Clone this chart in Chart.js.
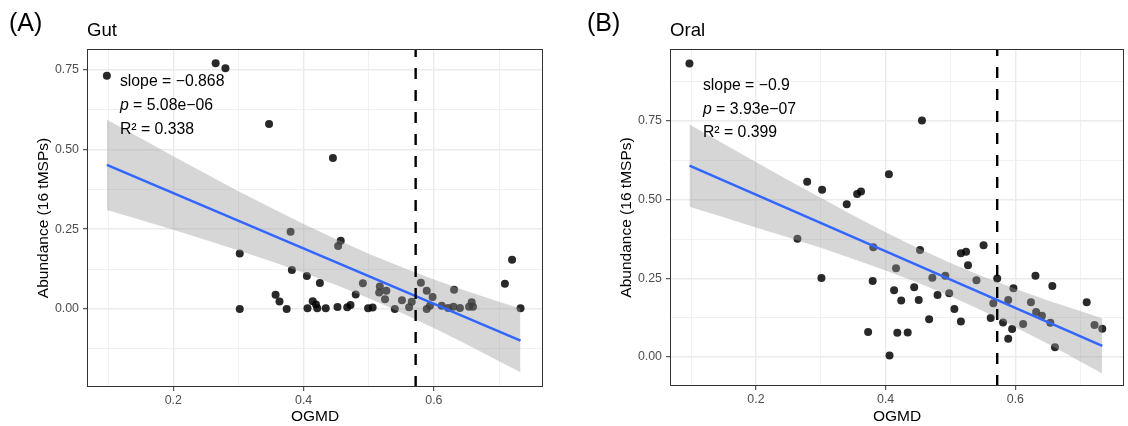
<!DOCTYPE html>
<html><head><meta charset="utf-8">
<script src="https://cdn.jsdelivr.net/npm/chart.js@4/dist/chart.umd.min.js"></script>
<style>
html,body{margin:0;padding:0;background:#fff;}
body{width:1128px;height:426px;position:relative;overflow:hidden;font-family:"Liberation Sans",Arial,sans-serif;}
.cv{position:absolute;top:0;}
.lbl{position:absolute;white-space:nowrap;line-height:1;color:#000;}
</style></head><body>
<canvas id="gut" class="cv" width="564" height="426" style="left:0px"></canvas>
<canvas id="oral" class="cv" width="564" height="426" style="left:564px"></canvas>
<div class="lbl" style="left:9px;top:10px;font-size:25px">(A)</div>
<div class="lbl" style="left:87px;top:21px;font-size:18.6px">Gut</div>
<div class="lbl" style="left:587px;top:10px;font-size:25px">(B)</div>
<div class="lbl" style="left:670px;top:21px;font-size:18.6px">Oral</div>
<script>
// ---------- data ----------
const xTicks = [0.1, 0.2, 0.3, 0.4, 0.5, 0.6, 0.7];
const xMajor = [0.2, 0.4, 0.6];
const gutYTicks = [-0.125, 0, 0.125, 0.25, 0.375, 0.5, 0.625, 0.75];
const oralYTicks = [0, 0.125, 0.25, 0.375, 0.5, 0.625, 0.75, 0.875];
const yMajor = [0, 0.25, 0.5, 0.75];
const ogmdCutoff = 0.572;

const gutX = [0.098,0.265,0.280,0.347,0.445,0.380,0.302,0.382,0.405,0.357,0.363,0.302,0.374,0.406,
  0.457,0.453,0.425,0.414,0.419,0.421,0.434,0.452,0.467,0.472,0.480,0.491,0.499,0.506,0.517,0.516,
  0.527,0.525,0.540,0.551,0.562,0.566,0.580,0.589,0.598,0.589,0.594,0.612,0.622,0.631,0.630,0.640,
  0.654,0.658,0.660,0.709,0.720,0.733];
const gutY = [0.731,0.770,0.755,0.580,0.473,0.242,0.174,0.122,0.103,0.044,0.023,0.000,0.000,0.002,
  0.214,0.197,0.081,0.024,0.014,0.002,0.002,0.006,0.005,0.012,0.045,0.080,0.002,0.004,0.070,0.051,
  0.057,0.030,0.000,0.027,0.005,0.022,0.082,0.057,0.037,0.000,0.010,0.010,0.003,0.060,0.007,0.003,
  0.007,0.021,0.007,0.079,0.154,0.002];
const gutFitX = [0.098, 0.733];
const gutFitY = [0.4517, -0.0994];
const gutBandX = [0.098,0.15,0.2,0.25,0.3,0.35,0.4,0.45,0.5,0.55,0.6,0.65,0.7,0.733];
const gutBandUpper = [0.593,0.535,0.479,0.424,0.369,0.317,0.266,0.218,0.173,0.131,0.092,0.056,0.022,0.001];
const gutBandLower = [0.310,0.279,0.248,0.216,0.183,0.149,0.113,0.075,0.033,-0.012,-0.060,-0.111,-0.164,-0.199];
const gutStats = ['slope = \u22120.868', '5.08e\u221206', 'R\u00b2 = 0.338'];

const oralX = [0.0975,0.279,0.302,0.356,0.362,0.340,0.405,0.264,0.381,0.416,0.301,0.380,0.413,0.373,
  0.418,0.406,0.453,0.424,0.444,0.451,0.434,0.467,0.472,0.480,0.492,0.498,0.506,0.516,0.516,0.524,
  0.527,0.540,0.551,0.562,0.566,0.572,0.581,0.589,0.589,0.595,0.597,0.612,0.624,0.631,0.632,0.641,
  0.654,0.657,0.661,0.710,0.722,0.734,0.456];
const oralY = [0.933,0.557,0.532,0.518,0.526,0.486,0.581,0.376,0.349,0.282,0.251,0.2415,0.212,0.080,
  0.077,0.005,0.340,0.180,0.222,0.181,0.078,0.120,0.252,0.197,0.258,0.203,0.153,0.113,0.330,0.335,
  0.292,0.244,0.355,0.124,0.171,0.250,0.110,0.181,0.058,0.089,0.219,0.105,0.174,0.258,0.143,0.131,
  0.109,0.226,0.031,0.174,0.102,0.090,0.752];
const oralFitX = [0.0975, 0.734];
const oralFitY = [0.6083, 0.0354];
const oralBandX = [0.0975,0.15,0.2,0.25,0.3,0.35,0.4,0.45,0.5,0.55,0.6,0.65,0.7,0.734];
const oralBandUpper = [0.739,0.678,0.620,0.562,0.506,0.450,0.397,0.346,0.299,0.256,0.217,0.180,0.146,0.123];
const oralBandLower = [0.478,0.444,0.412,0.380,0.347,0.312,0.275,0.236,0.193,0.146,0.095,0.042,-0.014,-0.052];
const oralStats = ['slope = \u22120.9', '3.93e\u221207', 'R\u00b2 = 0.399'];

// ---------- drawing ----------
const FAM = '"Liberation Sans", Arial, Helvetica, sans-serif';
const isMajor = (v, arr) => arr.some(m => Math.abs(m - v) < 1e-9);
const zip = (xs, ys) => xs.map((x, i) => ({x: x, y: ys[i]}));

const panelPlugin = {
  id: 'panel',
  afterDatasetsDraw(chart, args, o) {
    const {ctx, chartArea: a, scales} = chart;
    ctx.save();
    ctx.strokeStyle = '#333333';
    ctx.lineWidth = 1;
    ctx.strokeRect(a.left + 0.5, a.top + 0.5, a.right - a.left - 1, a.bottom - a.top - 1);
    const x = scales.x.getPixelForValue(o.ax);
    const y = scales.y.getPixelForValue(o.ay);
    const f = '15.8px ' + FAM;
    ctx.fillStyle = '#000';
    ctx.textBaseline = 'middle';
    ctx.textAlign = 'left';
    ctx.font = f;
    ctx.fillText(o.lines[0], x, y);
    ctx.font = 'italic ' + f;
    ctx.fillText('p', x, y + o.gap);
    const w = ctx.measureText('p').width;
    ctx.font = f;
    ctx.fillText(' = ' + o.lines[1], x + w, y + o.gap);
    ctx.fillText(o.lines[2], x, y + 2 * o.gap);
    ctx.restore();
  }
};

function makeChart(id, p) {
  const datasets = [
    {type: 'line', data: [{x: ogmdCutoff, y: p.yMin}, {x: ogmdCutoff, y: p.yMax}],
     borderColor: '#000', borderWidth: 2.4, borderDash: [11, 11], pointRadius: 0, fill: false, order: 0},
    {type: 'line', data: zip(p.fitX, p.fitY), borderColor: '#3366FF', borderWidth: 2.6,
     pointRadius: 0, fill: false, order: 1},
    {type: 'line', data: zip(p.bandX, p.bandU), borderWidth: 0, borderColor: 'rgba(0,0,0,0)',
     backgroundColor: 'rgba(153,153,153,0.4)', pointRadius: 0, fill: '+1', order: 2},
    {type: 'line', data: zip(p.bandX, p.bandL), borderWidth: 0, borderColor: 'rgba(0,0,0,0)',
     pointRadius: 0, fill: false, order: 2},
    {type: 'scatter', data: zip(p.xs, p.ys), pointRadius: 4, pointBackgroundColor: 'rgba(0,0,0,0.84)',
     pointBorderWidth: 0, order: 3}
  ];
  return new Chart(document.getElementById(id), {
    type: 'scatter',
    data: {datasets: datasets},
    plugins: [panelPlugin],
    options: {
      responsive: false, animation: false, devicePixelRatio: 1,
      layout: {padding: p.pad},
      plugins: {legend: {display: false}, tooltip: {enabled: false},
        panel: {ax: p.ax, ay: p.ay, gap: p.gap, lines: p.stats}},
      scales: {
        x: {
          type: 'linear', min: 0.0675, max: 0.7675,
          afterBuildTicks: s => { s.ticks = xTicks.map(v => ({value: v})); },
          afterFit: s => { s.height = p.xH; },
          ticks: {callback: v => isMajor(v, xMajor) ? v.toFixed(1) : '', color: '#4d4d4d',
            font: {size: 12.4, family: FAM}, padding: 2, maxRotation: 0, autoSkip: false},
          grid: {color: '#ebebeb', lineWidth: c => (c.tick && isMajor(c.tick.value, xMajor)) ? 1.4 : 0.7,
            tickColor: c => (c.tick && isMajor(c.tick.value, xMajor)) ? '#333333' : 'rgba(0,0,0,0)',
            tickWidth: 1, tickLength: 4},
          border: {display: false},
          title: {display: true, text: 'OGMD', color: '#000', font: {size: 15.5, family: FAM},
            padding: {top: 0, bottom: 0}}
        },
        y: {
          type: 'linear', min: p.yMin, max: p.yMax,
          afterBuildTicks: s => { s.ticks = p.yTicks.map(v => ({value: v})); },
          afterFit: s => { s.width = 87; },
          ticks: {callback: v => isMajor(v, yMajor) ? v.toFixed(2) : '', color: '#4d4d4d',
            font: {size: 12.4, family: FAM}, padding: 4, autoSkip: false},
          grid: {color: '#ebebeb', lineWidth: c => (c.tick && isMajor(c.tick.value, yMajor)) ? 1.4 : 0.7,
            tickColor: c => (c.tick && isMajor(c.tick.value, yMajor)) ? '#333333' : 'rgba(0,0,0,0)',
            tickWidth: 1, tickLength: 4},
          border: {display: false},
          title: {display: true, text: 'Abundance (16 tMSPs)', color: '#000',
            font: {size: 15.5, family: FAM}, padding: {top: 34.5, bottom: 0}}
        }
      }
    }
  });
}

makeChart('gut', {xs: gutX, ys: gutY, fitX: gutFitX, fitY: gutFitY, bandX: gutBandX,
  bandU: gutBandUpper, bandL: gutBandLower, yTicks: gutYTicks, yMin: -0.245, yMax: 0.815,
  pad: {top: 49, right: 21, bottom: 0, left: 0}, xH: 39, stats: gutStats,
  ax: 0.118, ay: 0.7115, gap: 24});
makeChart('oral', {xs: oralX, ys: oralY, fitX: oralFitX, fitY: oralFitY, bandX: oralBandX,
  bandU: oralBandUpper, bandL: oralBandLower, yTicks: oralYTicks, yMin: -0.092, yMax: 0.979,
  pad: {top: 49, right: 3, bottom: 0, left: 19}, xH: 40, stats: oralStats,
  ax: 0.1183, ay: 0.8614, gap: 23.5});
</script>
</body></html>
